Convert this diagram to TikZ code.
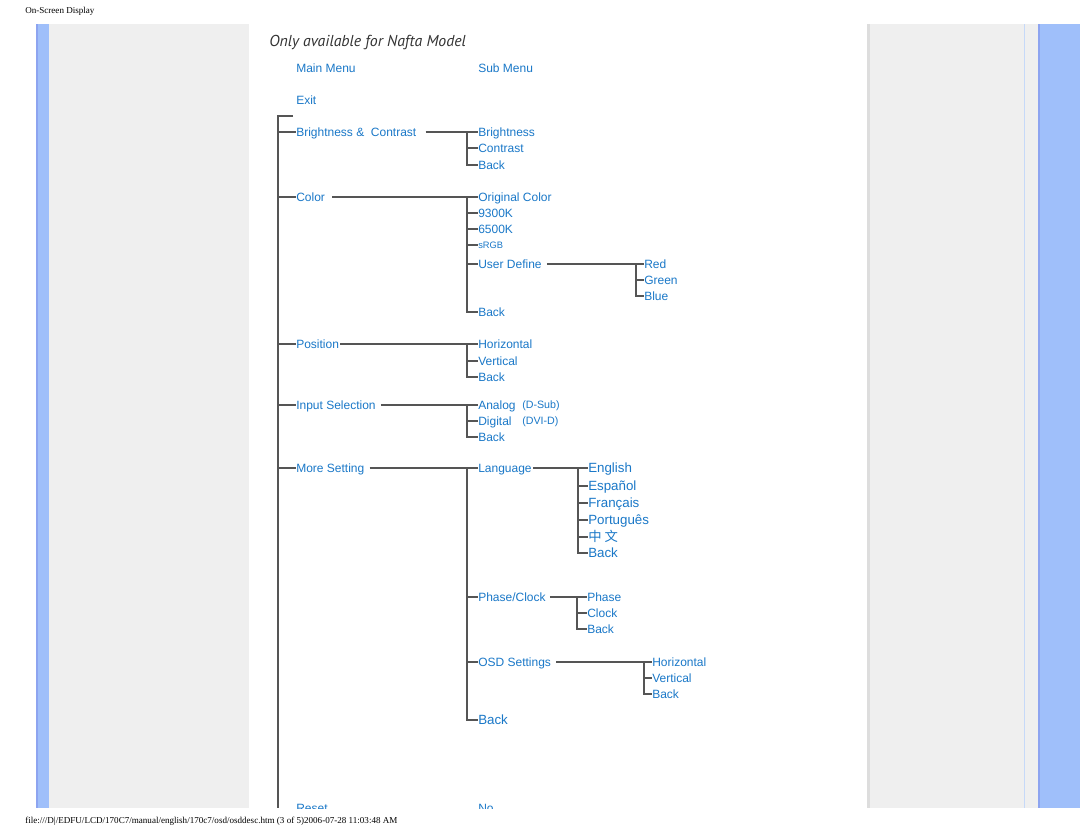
\documentclass[tikz,border=0pt]{standalone}
\usepackage{fontspec}
\setmainfont{Liberation Sans}
\newfontfamily\pageserif{Liberation Serif}
\newfontfamily\titlefont{PT Sans}
\newfontfamily\cjk{Noto Sans CJK SC}
\usetikzlibrary{calc}

\definecolor{osdblue}{HTML}{1A78C8}
\definecolor{treeline}{HTML}{555555}
\definecolor{barblue}{HTML}{9FBFFA}
\definecolor{baredge}{HTML}{8DA4F0}
\definecolor{panelgrey}{HTML}{EFEFEF}
\definecolor{paneledge}{HTML}{DDDDDD}
\definecolor{thinblue}{HTML}{C6D9F8}

\begin{document}
\begin{tikzpicture}[
  x=0.75pt, y=-0.75pt,
  item/.style={anchor=west, inner sep=0pt, text=osdblue,
               font=\fontsize{9}{10}\selectfont, text height=6.5pt, text depth=0pt},
  bigitem/.style={item, font=\fontsize{10}{11}\selectfont, text height=7.2pt},
  smallitem/.style={item, font=\fontsize{7}{8}\selectfont, text height=5pt},
  conn/.style={draw=treeline, line width=1.2pt},
  pagetext/.style={anchor=west, inner sep=0pt, font=\pageserif\fontsize{6.8}{8}\selectfont},
]
\useasboundingbox (0,0) rectangle (1080,834);

%--- page frame -------------------------------------------------------------
\fill[white] (0,0) rectangle (1080,834);
\fill[barblue] (36,24) rectangle (49,808);
\fill[baredge] (36,24) rectangle (38,808);
\fill[panelgrey] (49,24) rectangle (249,808);
\fill[panelgrey] (867,24) rectangle (1038,808);
\fill[paneledge] (867,24) rectangle (870,808);
\fill[thinblue] (1024,24) rectangle (1025,808);
\fill[barblue] (1038,24) rectangle (1080,808);
\fill[baredge] (1038,24) rectangle (1040,808);

\node[pagetext] (header) at (25,11) {On-Screen Display};
\node[pagetext] (footer) at (25,821)
  {file:///D|/EDFU/LCD/170C7/manual/english/170c7/osd/osddesc.htm (3 of 5)2006-07-28 11:03:48 AM};

\begin{scope}
\clip (249,24) rectangle (867,808);

%--- title and column heads -------------------------------------------------
\node[anchor=west, inner sep=0pt, text=black!80,
      font=\titlefont\itshape\fontsize{11.85}{13}\selectfont] (title) at (269,43)
  {Only available for Nafta Model};
\node[item] (mainhead) at (296,68) {Main Menu};
\node[item] (subhead)  at (478,68) {Sub Menu};

%--- main menu --------------------------------------------------------------
\node[item] (exit)  at (296,100) {Exit};
\node[item] (bc)    at (296,132) {Brightness \&\ \ Contrast};
\node[item] (color) at (296,197) {Color};
\node[item] (pos)   at (296,344) {Position};
\node[item] (input) at (296,405) {Input Selection};
\node[item] (more)  at (296,468) {More Setting};
\node[item, text height=4pt] (reset) at (296,810) {Reset};

\coordinate (toptick) at (293,116);
\coordinate (trunkend) at (278,808);
\draw[conn, line width=1.6pt] (toptick) -| (trunkend);
\foreach \n in {bc,color,pos,input,more}
  \draw[conn] (trunkend |- \n.west) -- (\n.west);

%--- Brightness & Contrast --------------------------------------------------
\node[item] (bc1) at (478,132) {Brightness};
\node[item] (bc2) at (478,148) {Contrast};
\node[item] (bc3) at (478,165) {Back};
\draw[conn] ($(bc.east)+(9,0)$) -- (bc1.west);
\draw[conn] ($(bc1.west)+(-11,0)$) |- (bc3.west);
\draw[conn] ($(bc2.west)+(-11,0)$) -- (bc2.west);

%--- Color ------------------------------------------------------------------
\node[item]      (col1) at (478,197) {Original Color};
\node[item]      (col2) at (478,213) {9300K};
\node[item]      (col3) at (478,229) {6500K};
\node[smallitem] (col4) at (478,245) {sRGB};
\node[item]      (col5) at (478,264) {User Define};
\node[item]      (col6) at (478,312) {Back};
\draw[conn] ($(color.east)+(7,0)$) -- (col1.west);
\draw[conn] ($(col1.west)+(-11,0)$) |- (col6.west);
\foreach \n in {col2,col3,col4,col5}
  \draw[conn] ($(\n.west)+(-11,0)$) -- (\n.west);

\node[item] (ud1) at (644,264) {Red};
\node[item] (ud2) at (644,280) {Green};
\node[item] (ud3) at (644,296) {Blue};
\draw[conn] ($(col5.east)+(5,0)$) -- (ud1.west);
\draw[conn] ($(ud1.west)+(-8,0)$) |- (ud3.west);
\draw[conn] ($(ud2.west)+(-8,0)$) -- (ud2.west);

%--- Position ---------------------------------------------------------------
\node[item] (pos1) at (478,344) {Horizontal};
\node[item] (pos2) at (478,361) {Vertical};
\node[item] (pos3) at (478,377) {Back};
\draw[conn] ($(pos.east)+(1,0)$) -- (pos1.west);
\draw[conn] ($(pos1.west)+(-11,0)$) |- (pos3.west);
\draw[conn] ($(pos2.west)+(-11,0)$) -- (pos2.west);

%--- Input Selection --------------------------------------------------------
\node[item] (in1) at (478,405) {Analog};
\node[item] (in2) at (478,421) {Digital};
\node[item] (in3) at (478,437) {Back};
\node[smallitem, font=\fontsize{8}{9}\selectfont, text height=5.8pt] (in1x) at (522,405) {(D-Sub)};
\node[smallitem, font=\fontsize{8}{9}\selectfont, text height=5.8pt] (in2x) at (522,421) {(DVI-D)};
\draw[conn] ($(input.east)+(5,0)$) -- (in1.west);
\draw[conn] ($(in1.west)+(-11,0)$) |- (in3.west);
\draw[conn] ($(in2.west)+(-11,0)$) -- (in2.west);

%--- More Setting -----------------------------------------------------------
\node[item]    (ms1) at (478,468) {Language};
\node[item]    (ms2) at (478,597) {Phase/Clock};
\node[item]    (ms3) at (478,662) {OSD Settings};
\node[bigitem] (ms4) at (478,720) {Back};
\draw[conn] ($(more.east)+(5,0)$) -- (ms1.west);
\draw[conn] ($(ms1.west)+(-11,0)$) |- (ms4.west);
\foreach \n in {ms2,ms3}
  \draw[conn] ($(\n.west)+(-11,0)$) -- (\n.west);

% languages
\node[bigitem] (lang1) at (588,468) {English};
\node[bigitem] (lang2) at (588,486) {Español};
\node[bigitem] (lang3) at (588,503) {Français};
\node[bigitem] (lang4) at (588,520) {Português};
\node[bigitem] (lang5) at (588,537) {\cjk 中 文};
\node[bigitem] (lang6) at (588,553) {Back};
\draw[conn] ($(ms1.east)+(1,0)$) -- (lang1.west);
\draw[conn] ($(lang1.west)+(-10,0)$) |- (lang6.west);
\foreach \n in {lang2,lang3,lang4,lang5}
  \draw[conn] ($(\n.west)+(-10,0)$) -- (\n.west);

% phase / clock
\node[item] (ph1) at (587,597) {Phase};
\node[item] (ph2) at (587,613) {Clock};
\node[item] (ph3) at (587,629) {Back};
\draw[conn] ($(ms2.east)+(4,0)$) -- (ph1.west);
\draw[conn] ($(ph1.west)+(-10,0)$) |- (ph3.west);
\draw[conn] ($(ph2.west)+(-10,0)$) -- (ph2.west);

% OSD settings
\node[item] (osd1) at (652,662) {Horizontal};
\node[item] (osd2) at (652,678) {Vertical};
\node[item] (osd3) at (652,694) {Back};
\draw[conn] ($(ms3.east)+(5,0)$) -- (osd1.west);
\draw[conn] ($(osd1.west)+(-8,0)$) |- (osd3.west);
\draw[conn] ($(osd2.west)+(-8,0)$) -- (osd2.west);

%--- Reset (cut by page end) ------------------------------------------------
\node[item, text height=4pt] (reset1) at (478,810) {No};
\draw[conn] (trunkend |- reset.west) -- (reset.west);
\draw[conn] ($(reset.east)+(5,0)$) -- (reset1.west);
\end{scope}

\end{tikzpicture}
\end{document}
